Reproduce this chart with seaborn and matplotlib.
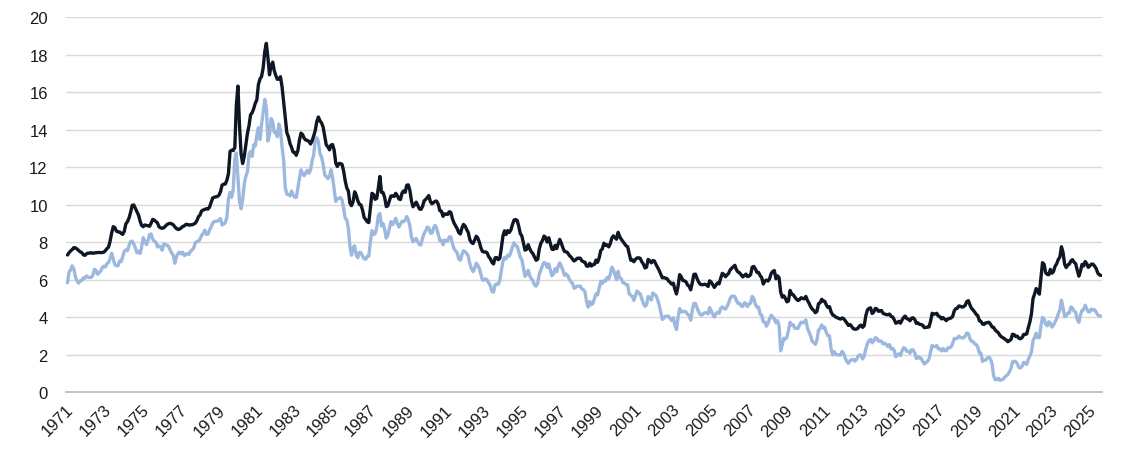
import pandas as pd
import seaborn as sns
import matplotlib.pyplot as plt

# monthly averages, Apr 1971 .. Nov 2025
start = "1971-04-01"

mortgage_30y = [
    7.31, 7.43, 7.53, 7.60, 7.70, 7.69, 7.63, 7.55, 7.48,
    7.44, 7.32, 7.29, 7.37, 7.41, 7.41, 7.43, 7.40, 7.42, 7.43, 7.44, 7.44,
    7.44, 7.44, 7.46, 7.54, 7.65, 7.73, 8.05, 8.50, 8.82, 8.77, 8.58, 8.54,
    8.54, 8.46, 8.41, 8.58, 8.97, 9.09, 9.28, 9.59, 9.96, 9.98, 9.79, 9.62,
    9.43, 9.10, 8.89, 8.82, 8.91, 8.89, 8.87, 8.84, 9.01, 9.21, 9.17, 9.10,
    9.02, 8.81, 8.76, 8.73, 8.76, 8.85, 8.93, 8.98, 9.00, 8.97, 8.92, 8.81,
    8.72, 8.67, 8.69, 8.75, 8.83, 8.86, 8.94, 8.94, 8.90, 8.92, 8.92, 8.96,
    9.01, 9.15, 9.35, 9.44, 9.66, 9.71, 9.74, 9.78, 9.76, 9.86, 10.11, 10.35,
    10.39, 10.41, 10.43, 10.50, 10.69, 11.04, 11.09, 11.09, 11.30, 11.64, 12.83, 12.90,
    12.88, 13.04, 15.28, 16.32, 14.26, 12.71, 12.19, 12.56, 13.20, 13.79, 14.21, 14.79,
    14.90, 15.13, 15.40, 15.58, 16.40, 16.70, 16.83, 17.29, 18.16, 18.60, 17.83, 16.92,
    17.40, 17.60, 17.16, 16.89, 16.68, 16.70, 16.82, 16.27, 15.43, 14.61, 13.83, 13.62,
    13.25, 13.04, 12.80, 12.78, 12.63, 12.87, 13.42, 13.81, 13.73, 13.54, 13.44, 13.42,
    13.37, 13.23, 13.39, 13.65, 13.94, 14.42, 14.67, 14.47, 14.35, 14.13, 13.64, 13.18,
    13.08, 12.92, 13.17, 13.20, 12.91, 12.22, 12.03, 12.19, 12.19, 12.14, 11.78, 11.26,
    10.88, 10.71, 10.08, 9.94, 10.14, 10.68, 10.51, 10.20, 10.01, 9.98, 9.70, 9.31,
    9.20, 9.08, 9.04, 9.83, 10.60, 10.54, 10.28, 10.33, 10.89, 11.50, 10.65, 10.64,
    10.38, 9.89, 9.93, 10.20, 10.46, 10.46, 10.43, 10.60, 10.48, 10.30, 10.27, 10.61,
    10.73, 10.65, 11.03, 11.05, 10.77, 10.20, 9.88, 9.99, 10.13, 9.95, 9.77, 9.74,
    9.90, 10.20, 10.27, 10.37, 10.48, 10.16, 10.04, 10.10, 10.18, 10.18, 10.01, 9.67,
    9.64, 9.37, 9.50, 9.49, 9.47, 9.62, 9.58, 9.24, 9.01, 8.86, 8.71, 8.50,
    8.43, 8.76, 8.94, 8.85, 8.67, 8.51, 8.13, 7.98, 7.92, 8.09, 8.31, 8.22,
    7.99, 7.68, 7.50, 7.47, 7.47, 7.42, 7.21, 7.11, 6.92, 6.83, 7.16, 7.17,
    7.06, 7.15, 7.68, 8.32, 8.60, 8.40, 8.61, 8.51, 8.64, 8.93, 9.17, 9.20,
    9.15, 8.83, 8.46, 8.32, 7.96, 7.57, 7.61, 7.86, 7.64, 7.48, 7.38, 7.20,
    7.03, 7.08, 7.62, 7.93, 8.07, 8.32, 8.25, 8.00, 8.23, 7.92, 7.62, 7.60,
    7.82, 7.65, 7.90, 8.14, 7.94, 7.69, 7.50, 7.48, 7.43, 7.29, 7.21, 7.10,
    6.99, 7.04, 7.13, 7.14, 7.14, 7.00, 6.95, 6.92, 6.72, 6.71, 6.87, 6.72,
    6.79, 6.81, 7.04, 6.92, 7.15, 7.55, 7.63, 7.94, 7.82, 7.85, 7.74, 7.91,
    8.21, 8.33, 8.24, 8.15, 8.52, 8.29, 8.15, 8.03, 7.91, 7.80, 7.75, 7.38,
    7.03, 7.05, 6.95, 7.08, 7.15, 7.16, 7.13, 6.95, 6.82, 6.62, 6.66, 7.07,
    7.00, 6.89, 7.01, 6.99, 6.81, 6.65, 6.49, 6.29, 6.09, 6.11, 6.07, 6.05,
    5.92, 5.84, 5.75, 5.81, 5.48, 5.23, 5.63, 6.26, 6.15, 5.95, 5.93, 5.88,
    5.71, 5.64, 5.45, 5.83, 6.27, 6.29, 6.06, 5.87, 5.75, 5.72, 5.73, 5.75,
    5.71, 5.63, 5.93, 5.86, 5.72, 5.58, 5.70, 5.82, 5.77, 6.07, 6.33, 6.27,
    6.15, 6.25, 6.32, 6.51, 6.60, 6.68, 6.76, 6.52, 6.40, 6.36, 6.24, 6.14,
    6.22, 6.29, 6.16, 6.18, 6.26, 6.66, 6.70, 6.57, 6.38, 6.38, 6.21, 6.10,
    5.76, 5.92, 5.97, 5.92, 6.04, 6.32, 6.43, 6.48, 6.04, 6.20, 6.09, 5.33,
    5.06, 5.13, 5.00, 4.81, 4.86, 5.42, 5.22, 5.19, 5.06, 4.95, 4.88, 4.93,
    5.03, 4.99, 4.97, 5.10, 4.89, 4.74, 4.56, 4.43, 4.35, 4.23, 4.30, 4.71,
    4.76, 4.95, 4.84, 4.84, 4.64, 4.51, 4.55, 4.27, 4.11, 4.07, 3.99, 3.96,
    3.92, 3.89, 3.95, 3.91, 3.80, 3.68, 3.55, 3.60, 3.50, 3.38, 3.35, 3.35,
    3.41, 3.53, 3.57, 3.45, 3.54, 4.07, 4.37, 4.46, 4.49, 4.19, 4.26, 4.46,
    4.43, 4.30, 4.34, 4.34, 4.19, 4.16, 4.13, 4.12, 4.16, 4.04, 4.00, 3.86,
    3.67, 3.71, 3.77, 3.67, 3.84, 3.98, 4.05, 3.91, 3.89, 3.80, 3.94, 3.96,
    3.87, 3.66, 3.69, 3.61, 3.60, 3.57, 3.44, 3.44, 3.46, 3.47, 3.77, 4.20,
    4.15, 4.17, 4.20, 4.05, 4.01, 3.90, 3.97, 3.88, 3.81, 3.90, 3.92, 3.95,
    4.03, 4.33, 4.44, 4.47, 4.59, 4.57, 4.53, 4.55, 4.63, 4.83, 4.87, 4.64,
    4.46, 4.37, 4.27, 4.14, 4.07, 3.80, 3.77, 3.62, 3.61, 3.69, 3.70, 3.72,
    3.62, 3.47, 3.45, 3.31, 3.23, 3.16, 3.02, 2.94, 2.89, 2.83, 2.77, 2.68,
    2.74, 2.81, 3.08, 3.06, 2.96, 2.98, 2.87, 2.84, 2.90, 3.07, 3.07, 3.10,
    3.45, 3.76, 4.17, 4.98, 5.23, 5.52, 5.41, 5.22, 6.11, 6.90, 6.81, 6.36,
    6.27, 6.26, 6.54, 6.34, 6.43, 6.71, 6.84, 7.07, 7.20, 7.75, 7.44, 6.82,
    6.64, 6.78, 6.82, 6.99, 7.06, 6.92, 6.85, 6.50, 6.18, 6.43, 6.81, 6.72,
    6.96, 6.84, 6.65, 6.73, 6.82, 6.82, 6.72, 6.59, 6.35, 6.25, 6.22,
]

treasury_10y = [
    5.83, 6.39, 6.52, 6.73, 6.58, 6.14, 5.93, 5.81, 5.93,
    5.95, 6.08, 6.07, 6.19, 6.13, 6.11, 6.11, 6.21, 6.55, 6.48, 6.28, 6.36,
    6.46, 6.64, 6.71, 6.67, 6.85, 6.90, 7.13, 7.40, 7.09, 6.79, 6.73, 6.74,
    6.99, 6.96, 7.21, 7.51, 7.58, 7.54, 7.81, 8.04, 8.04, 7.90, 7.68, 7.43,
    7.50, 7.39, 7.73, 8.23, 8.06, 7.86, 8.06, 8.40, 8.43, 8.14, 8.05, 8.00,
    7.74, 7.79, 7.73, 7.56, 7.90, 7.86, 7.83, 7.77, 7.59, 7.41, 7.29, 6.87,
    7.21, 7.39, 7.46, 7.37, 7.46, 7.28, 7.33, 7.40, 7.34, 7.52, 7.58, 7.69,
    7.96, 8.03, 8.04, 8.15, 8.35, 8.46, 8.64, 8.41, 8.42, 8.64, 8.81, 9.01,
    9.10, 9.10, 9.12, 9.18, 9.25, 8.91, 8.95, 9.03, 9.33, 10.30, 10.65, 10.39,
    10.80, 12.41, 12.75, 11.47, 10.18, 9.78, 10.25, 11.10, 11.51, 11.75, 12.68, 12.84,
    12.57, 13.19, 13.12, 13.68, 14.10, 13.47, 14.28, 14.94, 15.60, 15.15, 13.39, 13.72,
    14.59, 14.43, 13.86, 13.87, 13.62, 14.30, 13.95, 13.06, 12.34, 10.91, 10.55, 10.54,
    10.46, 10.72, 10.51, 10.40, 10.38, 10.85, 11.38, 11.85, 11.65, 11.54, 11.69, 11.83,
    11.67, 11.84, 12.32, 12.63, 13.41, 13.56, 13.36, 12.72, 12.52, 12.16, 11.57, 11.50,
    11.38, 11.51, 11.86, 11.43, 10.85, 10.16, 10.31, 10.33, 10.37, 10.24, 9.78, 9.26,
    9.19, 8.70, 7.78, 7.30, 7.71, 7.80, 7.30, 7.17, 7.45, 7.43, 7.25, 7.11,
    7.08, 7.25, 7.25, 8.02, 8.61, 8.40, 8.45, 8.76, 9.42, 9.52, 8.86, 8.99,
    8.67, 8.21, 8.37, 8.72, 9.09, 8.92, 9.06, 9.26, 8.98, 8.80, 8.96, 9.11,
    9.09, 9.17, 9.36, 9.18, 8.86, 8.28, 8.02, 8.11, 8.19, 8.01, 7.87, 7.84,
    8.21, 8.47, 8.59, 8.79, 8.76, 8.48, 8.47, 8.75, 8.89, 8.72, 8.39, 8.08,
    8.09, 7.85, 8.11, 8.04, 8.07, 8.28, 8.27, 7.90, 7.65, 7.53, 7.42, 7.09,
    7.03, 7.34, 7.54, 7.48, 7.39, 7.26, 6.84, 6.59, 6.42, 6.59, 6.87, 6.77,
    6.60, 6.26, 5.98, 5.97, 6.04, 5.96, 5.81, 5.68, 5.36, 5.33, 5.72, 5.77,
    5.75, 5.97, 6.48, 6.97, 7.18, 7.10, 7.30, 7.24, 7.46, 7.74, 7.96, 7.81,
    7.78, 7.47, 7.20, 7.06, 6.63, 6.17, 6.28, 6.49, 6.20, 6.04, 5.93, 5.71,
    5.65, 5.81, 6.27, 6.51, 6.74, 6.91, 6.87, 6.64, 6.83, 6.53, 6.20, 6.30,
    6.58, 6.42, 6.69, 6.89, 6.71, 6.49, 6.22, 6.30, 6.21, 6.03, 5.88, 5.81,
    5.54, 5.57, 5.65, 5.64, 5.65, 5.50, 5.46, 5.34, 4.81, 4.53, 4.83, 4.65,
    4.72, 5.00, 5.23, 5.18, 5.54, 5.90, 5.79, 5.94, 5.92, 6.11, 6.03, 6.28,
    6.66, 6.52, 6.26, 5.99, 6.44, 6.10, 6.05, 5.83, 5.80, 5.74, 5.72, 5.24,
    5.16, 5.10, 4.89, 5.14, 5.39, 5.28, 5.24, 4.97, 4.73, 4.57, 4.65, 5.09,
    5.04, 4.91, 5.28, 5.21, 5.16, 4.93, 4.65, 4.26, 3.87, 3.94, 4.05, 4.03,
    4.05, 3.90, 3.81, 3.96, 3.57, 3.33, 3.98, 4.45, 4.27, 4.29, 4.30, 4.27,
    4.15, 4.08, 3.83, 4.35, 4.72, 4.73, 4.50, 4.28, 4.13, 4.10, 4.19, 4.23,
    4.22, 4.17, 4.50, 4.34, 4.14, 4.00, 4.18, 4.26, 4.20, 4.46, 4.54, 4.47,
    4.42, 4.57, 4.72, 4.99, 5.11, 5.11, 5.09, 4.88, 4.72, 4.73, 4.60, 4.56,
    4.76, 4.72, 4.56, 4.69, 4.75, 5.10, 5.00, 4.67, 4.52, 4.53, 4.15, 4.10,
    3.74, 3.74, 3.51, 3.68, 3.88, 4.10, 4.01, 3.89, 3.69, 3.81, 3.53, 2.20,
    2.52, 2.87, 2.82, 2.93, 3.29, 3.72, 3.56, 3.59, 3.40, 3.39, 3.40, 3.59,
    3.73, 3.69, 3.73, 3.85, 3.42, 3.20, 3.01, 2.70, 2.65, 2.54, 2.76, 3.29,
    3.39, 3.58, 3.41, 3.46, 3.17, 3.00, 3.00, 2.30, 1.98, 2.15, 2.01, 1.98,
    1.97, 1.97, 2.17, 2.05, 1.80, 1.62, 1.53, 1.68, 1.72, 1.75, 1.65, 1.72,
    1.91, 1.98, 1.96, 1.76, 1.93, 2.30, 2.58, 2.74, 2.81, 2.62, 2.72, 2.90,
    2.86, 2.71, 2.72, 2.71, 2.56, 2.60, 2.54, 2.42, 2.53, 2.30, 2.33, 2.21,
    1.88, 1.98, 2.04, 1.94, 2.20, 2.36, 2.32, 2.17, 2.17, 2.07, 2.26, 2.24,
    2.09, 1.78, 1.89, 1.81, 1.81, 1.64, 1.50, 1.56, 1.63, 1.76, 2.14, 2.49,
    2.43, 2.42, 2.48, 2.30, 2.30, 2.19, 2.32, 2.21, 2.20, 2.36, 2.35, 2.40,
    2.58, 2.86, 2.84, 2.87, 2.98, 2.91, 2.89, 2.89, 3.00, 3.15, 3.12, 2.83,
    2.71, 2.68, 2.57, 2.53, 2.40, 2.07, 2.06, 1.63, 1.70, 1.71, 1.81, 1.86,
    1.76, 1.50, 0.87, 0.66, 0.67, 0.73, 0.62, 0.65, 0.68, 0.79, 0.87, 0.93,
    1.08, 1.26, 1.61, 1.64, 1.62, 1.52, 1.32, 1.28, 1.37, 1.58, 1.56, 1.47,
    1.76, 1.93, 2.13, 2.75, 2.90, 3.14, 2.90, 2.90, 3.52, 3.98, 3.89, 3.62,
    3.53, 3.75, 3.66, 3.46, 3.57, 3.75, 3.90, 4.17, 4.38, 4.90, 4.50, 4.02,
    4.06, 4.21, 4.21, 4.54, 4.48, 4.31, 4.25, 3.87, 3.72, 4.10, 4.36, 4.39,
    4.63, 4.45, 4.28, 4.28, 4.42, 4.38, 4.39, 4.26, 4.12, 4.06, 4.05,
]

tick_years = list(range(1971, 2026, 2))

dates = pd.date_range(start=start, periods=len(mortgage_30y), freq="MS")
df = pd.DataFrame({"date": dates, "Mortgage": mortgage_30y, "Treasury": treasury_10y})
long = df.melt(id_vars="date", var_name="series", value_name="rate")

sns.set_style("white")
plt.rcParams["font.family"] = ["Liberation Sans", "DejaVu Sans"]

fig = plt.figure(figsize=(11.36, 4.64), dpi=100)
ax = fig.add_axes([0.058, 0.153, 0.912, 0.808])

sns.lineplot(data=long, x="date", y="rate", hue="series",
             hue_order=["Treasury", "Mortgage"],
             palette={"Treasury": "#9db8df", "Mortgage": "#0e1723"},
             linewidth=2.4, legend=False, ax=ax)

ax.set_ylim(0, 20)
ax.set_yticks(range(0, 21, 2))
ax.set_xlim(pd.Timestamp("1971-03-20"), pd.Timestamp("2025-11-20"))
ax.set_xticks([pd.Timestamp(f"{y}-03-01") for y in tick_years])
ax.set_xticklabels([str(y) for y in tick_years], rotation=45, ha="right",
                   rotation_mode="anchor")
ax.set_xlabel("")
ax.set_ylabel("")

ax.grid(axis="y", color="#d9d9d9", linewidth=1)
ax.set_axisbelow(True)
for s in ["top", "right", "left"]:
    ax.spines[s].set_visible(False)
ax.spines["bottom"].set_color("#bfbfbf")
ax.spines["bottom"].set_linewidth(1.3)
ax.tick_params(axis="both", length=0, labelsize=12, colors="#1a1a1a")
ax.tick_params(axis="y", pad=13)
ax.tick_params(axis="x", pad=7)

fig.savefig("out.png", dpi=100)
